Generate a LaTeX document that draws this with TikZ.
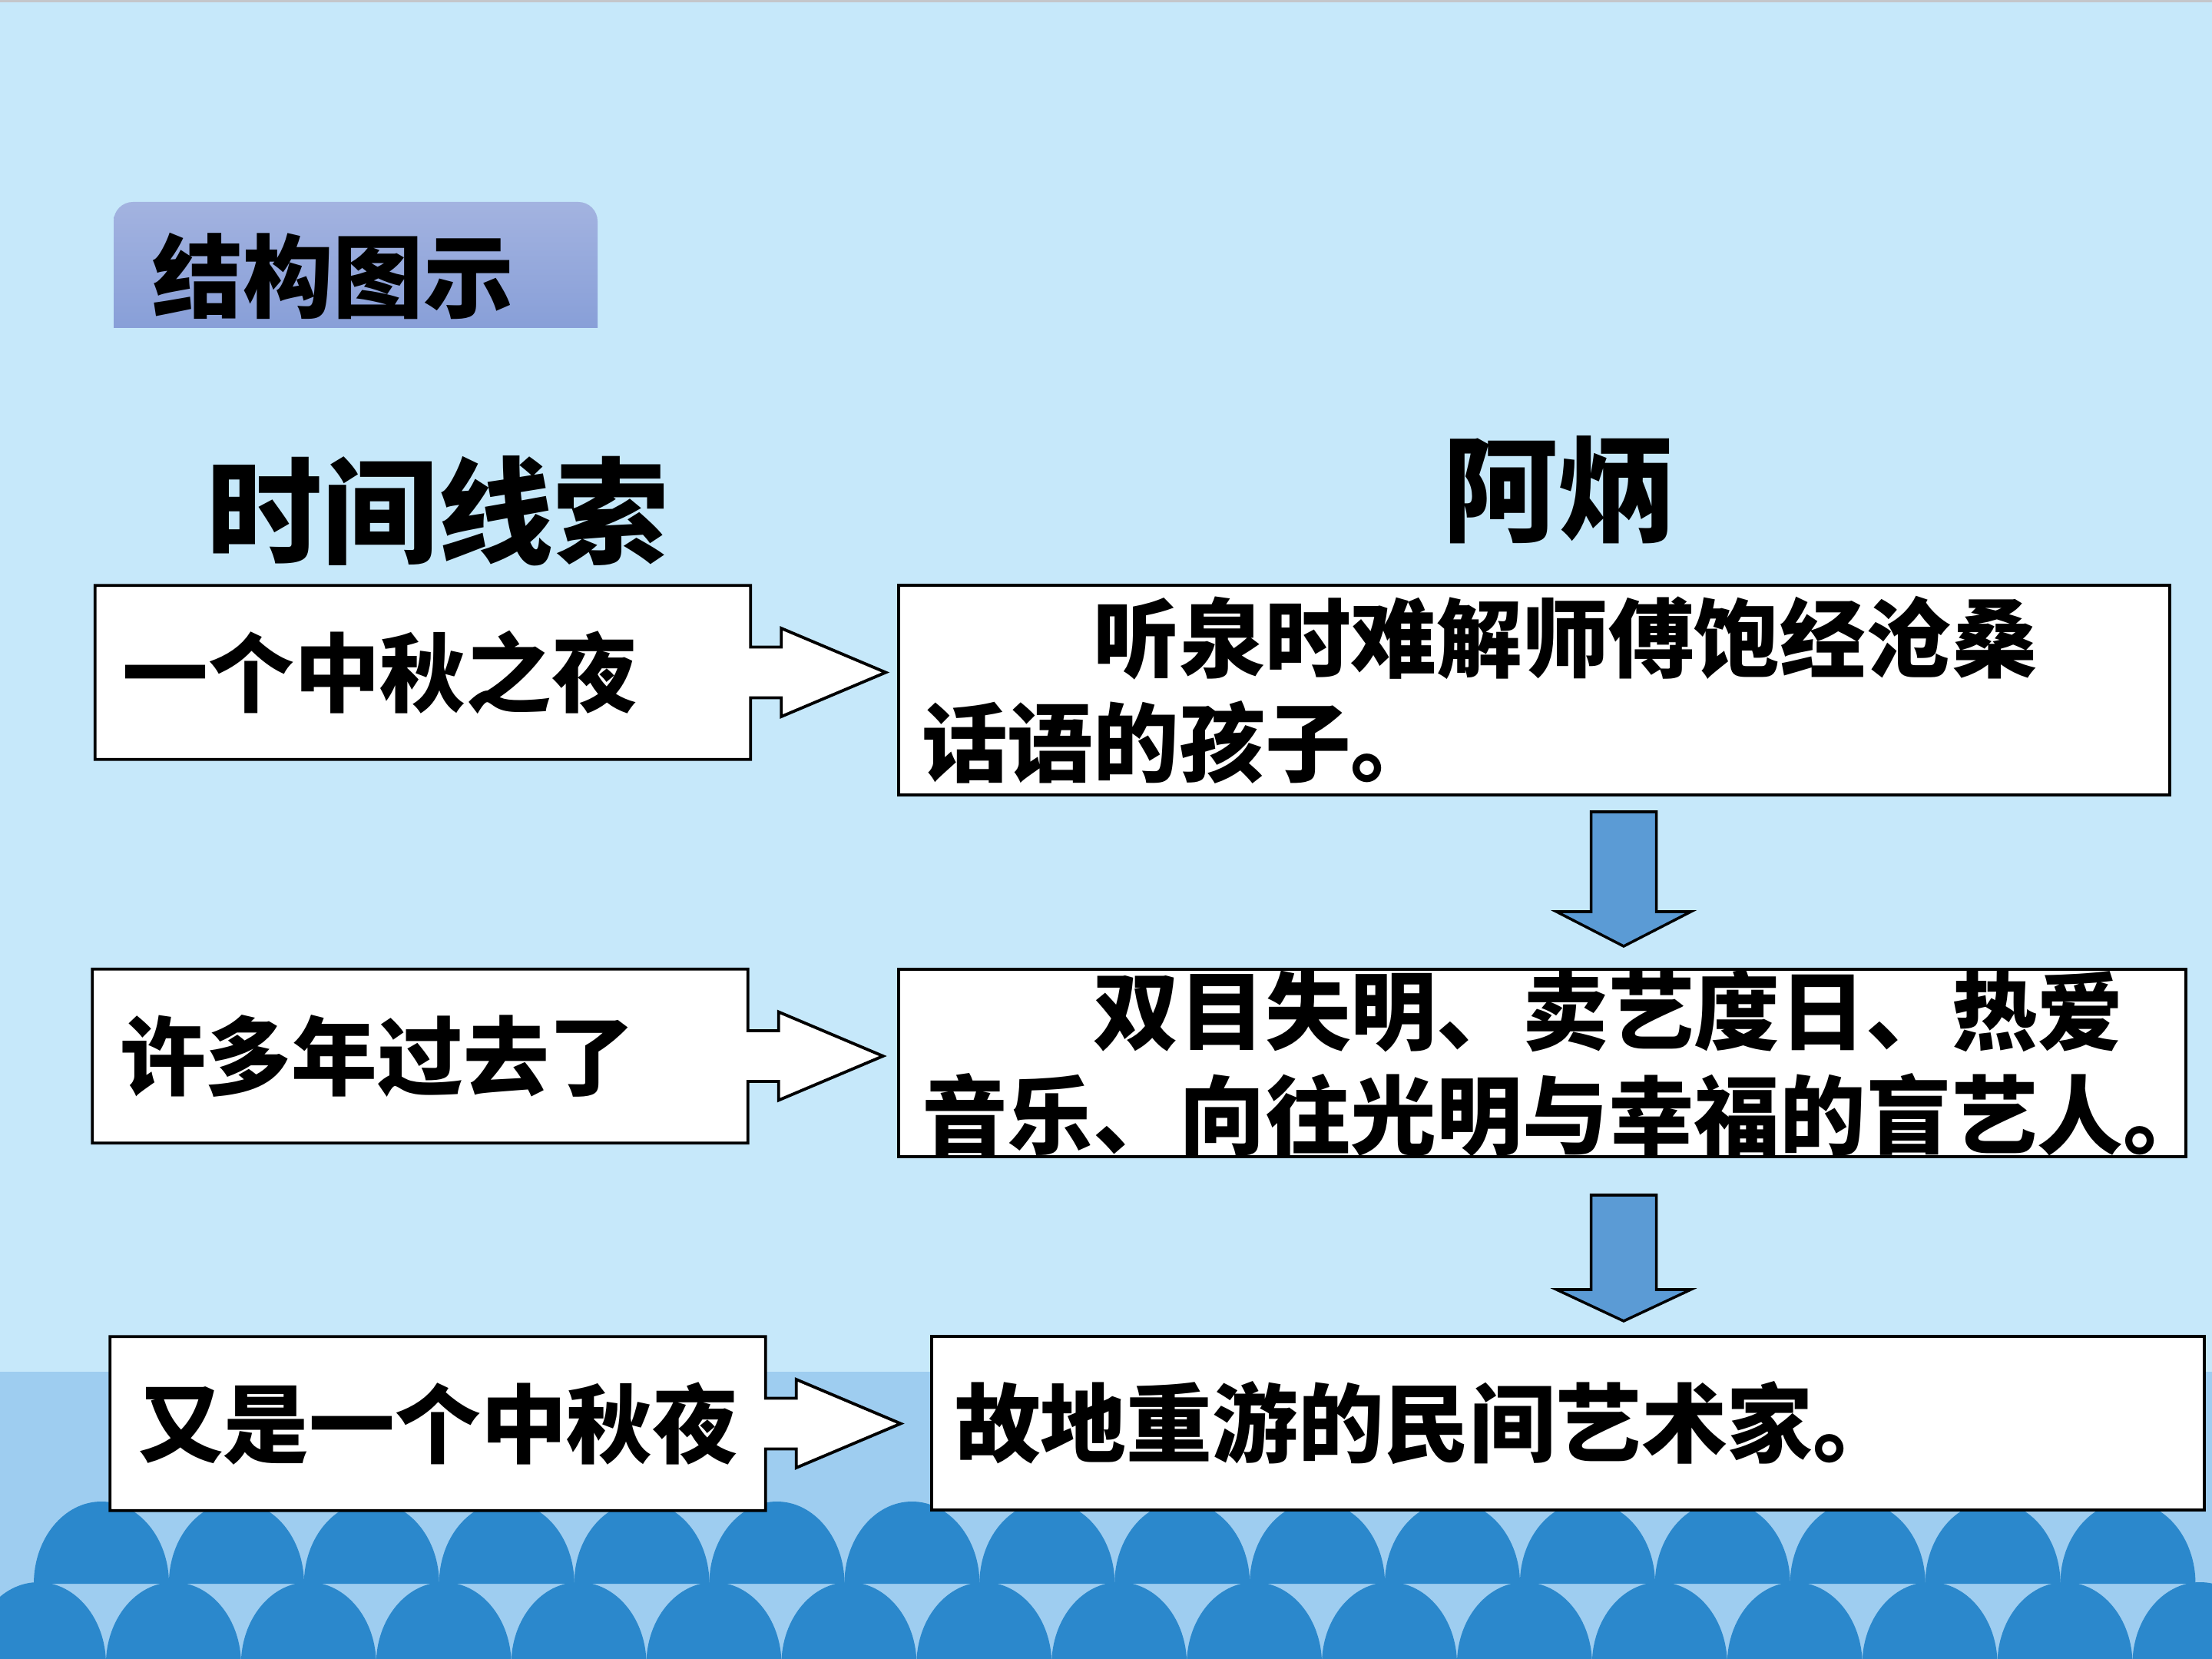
\documentclass[tikz,border=0pt]{standalone}
\usepackage{fontspec}
\newfontfamily\cjk{Noto Sans CJK SC}
\usetikzlibrary{calc,positioning}

\definecolor{skyBg}{RGB}{198,232,250}
\definecolor{bandBg}{RGB}{158,205,240}
\definecolor{waveBlue}{RGB}{43,136,204}
\definecolor{tabTop}{RGB}{163,179,224}
\definecolor{tabBot}{RGB}{136,159,216}
\definecolor{arrowBlue}{RGB}{91,155,213}
\definecolor{rimGrey}{RGB}{196,198,202}

\begin{document}
\begin{tikzpicture}[
  leftbox/.style={fill=white, text width=7.82cm, minimum height=2.25cm,
    inner xsep=0.35cm, inner ysep=0pt, align=left,
    font=\cjk\bfseries\fontsize{31.8}{38.6}\selectfont},
  rightbox/.style={draw, line width=1.1pt, fill=white, inner xsep=0.3cm,
    inner ysep=0pt, align=left, font=\cjk\bfseries\fontsize{31.8}{38.6}\selectfont},
  outline/.style={draw=black, line width=1.1pt, line join=miter},
  head/.style={font=\cjk\bfseries\fontsize{42.7}{50}\selectfont},
  downarr/.style={fill=arrowBlue, draw=black, line width=1pt, line join=miter}
]
  \useasboundingbox (0,0) rectangle (28.8,-21.6);

  % sky, lower band and the two rows of scales
  \fill[skyBg] (0,0) rectangle (28.8,-21.6);
  \fill[rimGrey] (0,0) rectangle (28.8,-0.03);
  \fill[bandBg] (0,-17.86) rectangle (28.8,-21.6);
  \begin{scope}
    \clip (0,0) rectangle (28.8,-21.6);
    \foreach \k in {0,...,15}
      \fill[waveBlue] ({0.44+1.759*\k},-20.62)
        arc[start angle=180, end angle=0, x radius=0.88, y radius=1.07] -- cycle;
    \foreach \k in {0,...,16}
      \fill[waveBlue] ({-0.38+1.759*\k},-21.67)
        arc[start angle=180, end angle=0, x radius=0.88, y radius=1.07] -- cycle;
  \end{scope}

  % title tab
  \shade[top color=tabTop, bottom color=tabBot]
    (1.48,-4.27) -- (1.48,-2.88) arc[start angle=180, end angle=90, radius=0.25]
    -- (7.53,-2.63) arc[start angle=90, end angle=0, radius=0.25] -- (7.78,-4.27) -- cycle;
  \node[anchor=west, font=\cjk\bfseries\fontsize{33.5}{40}\selectfont] (tabtitle)
    at (1.86,-3.60) {结构图示};

  % column heads
  \node[head] (clue) at (5.70,-6.65) {时间线索};
  \node[head] (abing) at (20.29,-6.38) {阿炳};

  % time line
  \node[leftbox] (L1) at (5.505,-8.755) {一个中秋之夜};
  \node[leftbox] (L2) at (5.47,-13.75) {许多年过去了};
  \node[leftbox] (L3) at (5.70,-18.535) {又是一个中秋夜};

  \foreach \b in {L1,L2,L3}{
    \fill[white] ($(\b.east)+(-0.02,0.33)$) -- ++(0.42,0) -- ++(0,0.245)
      -- ($(\b.east)+(1.76,0)$) -- ($(\b.east)+(0.40,-0.575)$) -- ++(0,0.245)
      -- ($(\b.east)+(-0.02,-0.33)$) -- cycle;
    \draw[outline] (\b.north west) -- (\b.north east) -- ($(\b.east)+(0,0.33)$)
      -- ++(0.40,0) -- ++(0,0.245) -- ($(\b.east)+(1.76,0)$)
      -- ($(\b.east)+(0.40,-0.575)$) -- ++(0,0.245) -- ($(\b.east)+(0,-0.33)$)
      -- (\b.south east) -- (\b.south west) -- cycle;
  }

  % what Abing is at each time
  \node[rightbox, text width=15.95cm, minimum height=2.73cm] (R1) at (19.975,-8.985)
    {\hspace*{2em}听泉时难解师傅饱经沧桑\\话语的孩子。};
  \node[rightbox, text width=16.16cm, minimum height=2.44cm] (R2) at (20.08,-13.84)
    {\hspace*{2em}双目失明、卖艺度日、热爱\\音乐、向往光明与幸福的盲艺人。};
  \node[rightbox, text width=15.97cm, minimum height=2.26cm] (R3) at (20.415,-18.53)
    {故地重游的民间艺术家。};

  % block arrows between them
  \coordinate (d1) at (21.14,-10.57);
  \coordinate (d2) at (21.14,-15.56);
  \foreach \d/\s/\h in {d1/1.30/0.45, d2/1.23/0.41}
    \draw[downarr] ($(\d)+(-0.425,0)$) -- ++(0.85,0) -- ++(0,-\s) -- ++(0.45,0)
      -- ($(\d)+(0,-\s-\h)$) -- ($(\d)+(-0.875,-\s)$) -- ++(0.45,0) -- cycle;
\end{tikzpicture}
\end{document}
